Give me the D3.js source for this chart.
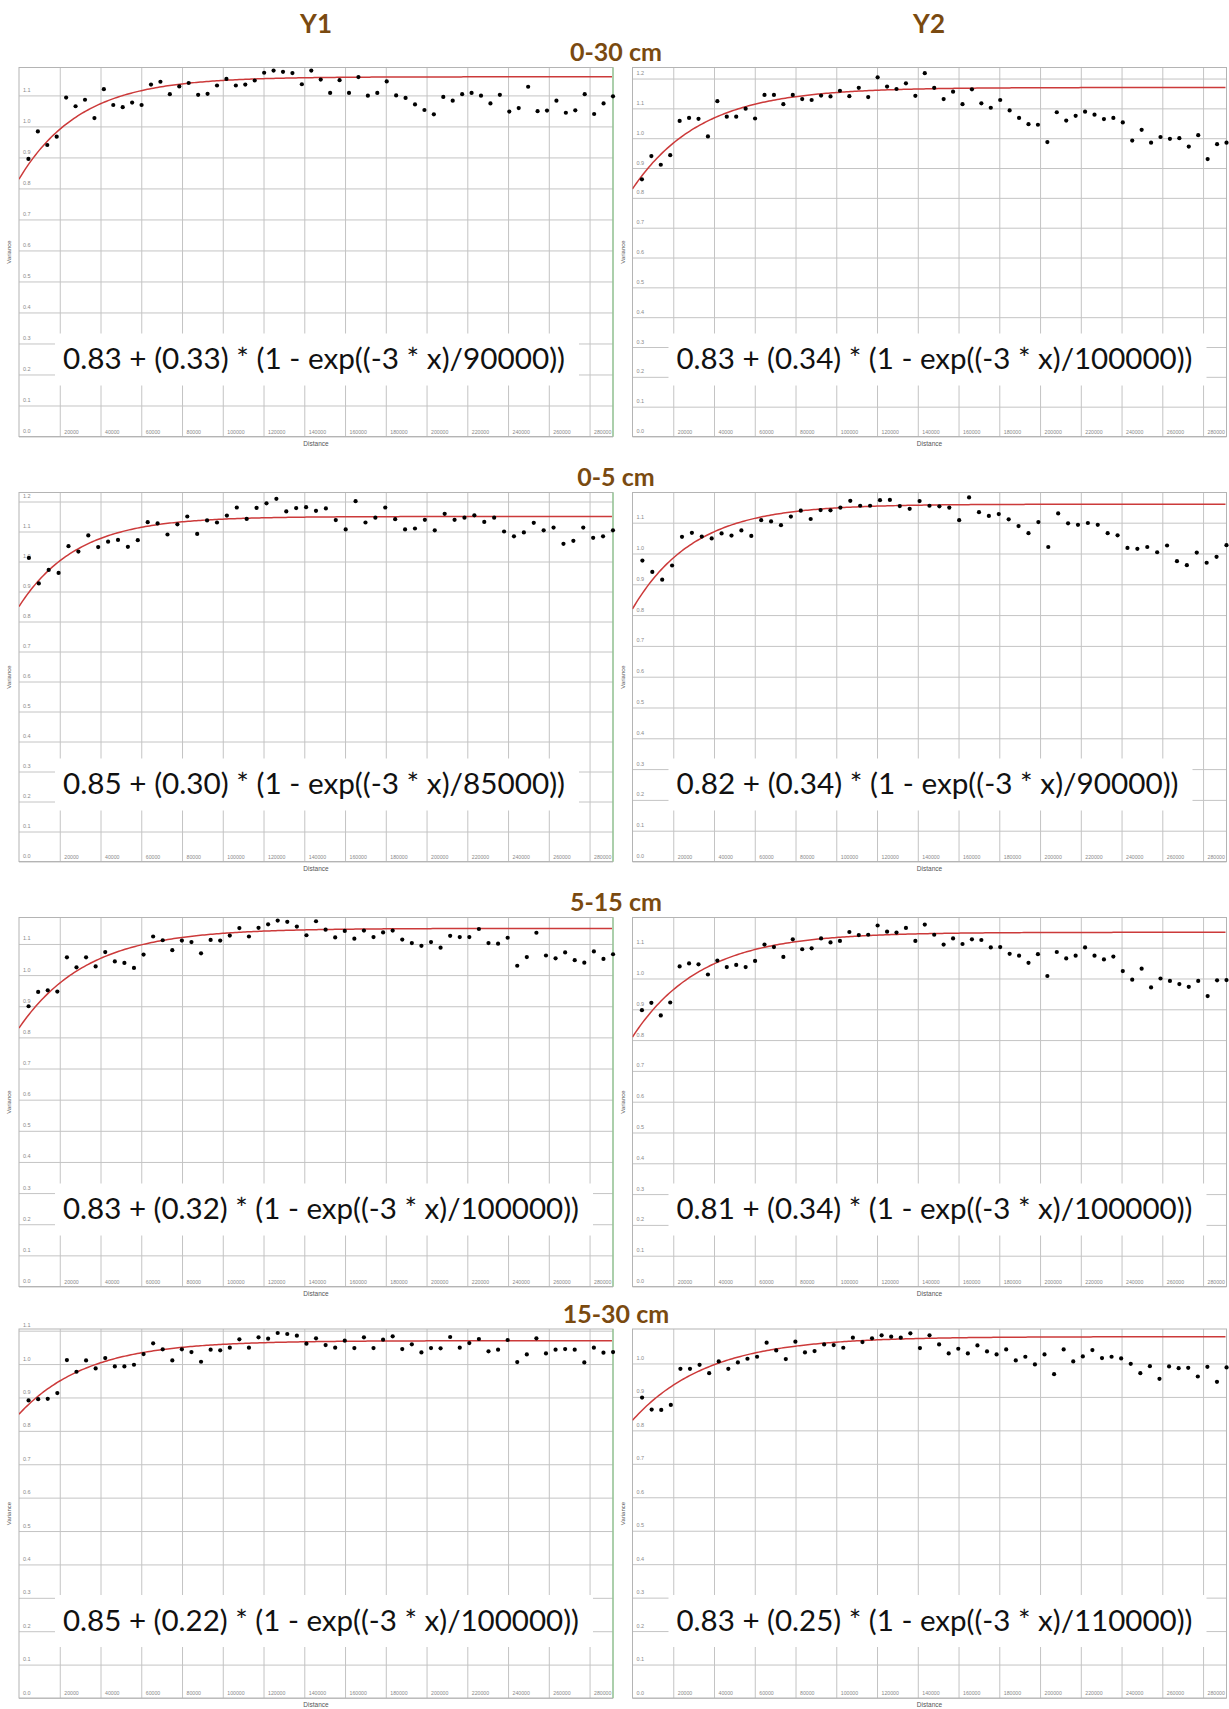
<!DOCTYPE html>
<html><head><meta charset="utf-8">
<script src="https://cdn.jsdelivr.net/npm/d3@7"></script>
<style>body{margin:0;background:#fff;overflow:hidden}</style>
</head><body>
<svg id="c" width="1229" height="1709"></svg>
<script>
// ---------- data ----------
const columnTitles = ["Y1", "Y2"];
const depthTitles = ["0-30 cm", "0-5 cm", "5-15 cm", "15-30 cm"];
const xTicks = [20000, 40000, 60000, 80000, 100000, 120000, 140000, 160000, 180000, 200000, 220000, 240000, 260000, 280000];
const yTicks = [0.0, 0.1, 0.2, 0.3, 0.4, 0.5, 0.6, 0.7, 0.8, 0.9, 1.0, 1.1, 1.2];

const y1_0_30 = [0.895,0.984,0.940,0.967,1.093,1.065,1.086,1.027,1.120,1.069,1.062,1.077,1.069,1.135,1.144,1.104,1.129,1.140,1.102,1.105,1.132,1.153,1.132,1.135,1.148,1.173,1.180,1.176,1.172,1.136,1.180,1.151,1.108,1.149,1.108,1.159,1.099,1.108,1.145,1.100,1.092,1.071,1.053,1.039,1.095,1.083,1.104,1.108,1.099,1.074,1.102,1.048,1.059,1.128,1.049,1.051,1.083,1.044,1.052,1.104,1.040,1.074,1.097];
const y2_0_30 = [0.862,0.940,0.911,0.943,1.058,1.068,1.065,1.006,1.124,1.072,1.072,1.099,1.066,1.145,1.145,1.114,1.145,1.131,1.128,1.143,1.140,1.159,1.141,1.169,1.138,1.204,1.173,1.165,1.184,1.142,1.218,1.169,1.131,1.156,1.114,1.164,1.117,1.102,1.128,1.093,1.068,1.047,1.045,0.987,1.087,1.059,1.075,1.089,1.079,1.064,1.068,1.053,0.992,1.028,0.985,1.004,0.998,1.000,0.972,1.010,0.930,0.980,0.985];
const y1_0_5 = [1.012,0.927,0.972,0.962,1.051,1.033,1.087,1.048,1.066,1.072,1.049,1.071,1.131,1.127,1.090,1.124,1.150,1.092,1.137,1.130,1.153,1.180,1.142,1.179,1.194,1.209,1.167,1.178,1.181,1.169,1.177,1.138,1.107,1.201,1.130,1.146,1.180,1.141,1.107,1.110,1.139,1.104,1.159,1.139,1.146,1.154,1.132,1.146,1.100,1.084,1.097,1.129,1.104,1.113,1.059,1.069,1.113,1.079,1.084,1.104];
const y2_0_5 = [0.977,0.940,0.915,0.961,1.054,1.067,1.055,1.049,1.065,1.058,1.075,1.057,1.108,1.104,1.092,1.120,1.139,1.112,1.141,1.140,1.149,1.171,1.155,1.155,1.173,1.174,1.154,1.145,1.170,1.155,1.153,1.149,1.108,1.182,1.134,1.122,1.128,1.111,1.089,1.066,1.102,1.021,1.130,1.098,1.093,1.099,1.093,1.066,1.059,1.018,1.015,1.021,1.004,1.026,0.975,0.962,1.003,0.970,0.989,1.027];
const y1_5_15 = [0.900,0.946,0.951,0.947,1.057,1.025,1.057,1.028,1.074,1.044,1.039,1.023,1.066,1.124,1.112,1.080,1.111,1.106,1.070,1.113,1.111,1.127,1.151,1.124,1.152,1.163,1.175,1.171,1.156,1.128,1.173,1.146,1.121,1.142,1.117,1.143,1.122,1.137,1.143,1.114,1.103,1.094,1.106,1.088,1.126,1.122,1.122,1.148,1.103,1.101,1.120,1.030,1.058,1.136,1.063,1.054,1.073,1.048,1.040,1.076,1.052,1.067];
const y2_5_15 = [0.897,0.921,0.880,0.922,1.039,1.049,1.046,1.013,1.058,1.037,1.044,1.037,1.057,1.110,1.102,1.070,1.127,1.095,1.098,1.130,1.117,1.122,1.151,1.141,1.142,1.172,1.152,1.149,1.164,1.122,1.175,1.142,1.110,1.130,1.112,1.127,1.125,1.101,1.102,1.080,1.074,1.051,1.079,1.008,1.086,1.065,1.074,1.101,1.074,1.062,1.071,1.024,0.996,1.032,0.971,1.000,0.992,0.982,0.973,0.992,0.943,0.994,0.995];
const y1_15_30 = [0.891,0.895,0.896,0.913,1.012,0.977,1.011,0.987,1.018,0.993,0.993,0.998,1.030,1.062,1.044,1.011,1.044,1.036,1.007,1.043,1.041,1.049,1.074,1.049,1.080,1.076,1.093,1.090,1.085,1.061,1.077,1.057,1.049,1.070,1.048,1.080,1.048,1.073,1.083,1.045,1.059,1.035,1.048,1.047,1.081,1.049,1.063,1.075,1.038,1.043,1.072,1.006,1.029,1.077,1.032,1.043,1.045,1.043,1.005,1.049,1.034,1.036];
const y2_15_30 = [0.898,0.862,0.861,0.876,0.984,0.984,0.996,0.971,1.006,0.984,1.003,1.014,1.020,1.062,1.039,1.013,1.065,1.033,1.037,1.057,1.055,1.047,1.077,1.064,1.075,1.084,1.080,1.077,1.090,1.046,1.084,1.057,1.030,1.044,1.030,1.054,1.036,1.027,1.042,1.009,1.020,0.997,1.027,0.968,1.042,1.006,1.021,1.040,1.016,1.020,1.015,0.999,0.971,0.992,0.954,0.991,0.986,0.987,0.961,0.990,0.945,0.988];

// lag spacing (distance between variogram bins) per panel
const lagStep = [4627, 4627, 4858, 4858, 4702, 4627, 4702, 4702];
// fitted exponential model parameters per panel
const nugget = [0.83, 0.83, 0.85, 0.82, 0.83, 0.81, 0.85, 0.83];
const partialSill = [0.33, 0.34, 0.30, 0.34, 0.32, 0.34, 0.22, 0.25];
const rangeParam = [90000, 100000, 85000, 90000, 100000, 100000, 100000, 110000];
// axis maxima
const yMax = [1.19, 1.237, 1.23, 1.198, 1.185, 1.198, 1.105, 1.103];
const xMax = 291500;

const panelValues = [y1_0_30, y2_0_30, y1_0_5, y2_0_5, y1_5_15, y2_5_15, y1_15_30, y2_15_30];

// ---------- layout ----------
const svg = d3.select("#c");
const W = 594, H = 369;
const colLeft = [19, 632.5];
const rowTop = [67.5, 492.5, 917.5, 1329];
const brown = "#7a4a10";
const f2 = d3.format(".2f");

svg.append("rect").attr("width", 1229).attr("height", 1709).attr("fill", "#fff");

columnTitles.forEach((t, i) => {
  svg.append("text").attr("x", [316, 929][i]).attr("y", 24).attr("dy", "0.35em")
    .attr("text-anchor", "middle").attr("font-family", "Lato, 'Open Sans', sans-serif")
    .attr("font-weight", "bold").attr("font-size", 26).attr("fill", brown).text(t);
});
depthTitles.forEach((t, r) => {
  svg.append("text").attr("x", 616).attr("y", rowTop[r] - 15).attr("dy", "0.35em")
    .attr("text-anchor", "middle").attr("font-family", "Lato, 'Open Sans', sans-serif")
    .attr("font-weight", "bold").attr("font-size", 25).attr("fill", brown).text(t);
});

panelValues.forEach((vals, p) => {
  const r = Math.floor(p / 2), c = p % 2;
  const left = colLeft[c], top = rowTop[r];
  const x = d3.scaleLinear().domain([0, xMax]).range([0, W]);
  const y = d3.scaleLinear().domain([0, yMax[p]]).range([H, 0]);
  const g = svg.append("g").attr("transform", `translate(${left},${top})`);
  const clipId = "clip" + p;
  g.append("clipPath").attr("id", clipId).append("rect").attr("width", W).attr("height", H);

  // grid + y labels
  const ya = g.append("g").call(d3.axisLeft(y).tickValues(yTicks.filter(t => t <= yMax[p] - 0.004)).tickSize(-W).tickFormat(d3.format(".1f")));
  ya.select(".domain").remove();
  ya.selectAll("line").attr("stroke", "#c4c4c4");
  ya.selectAll("text").attr("x", 4).attr("y", -4).attr("dy", 0).attr("text-anchor", "start")
    .attr("font-size", 5.5).attr("font-family", "Arial, 'Liberation Sans', sans-serif").attr("fill", "#8a8a8a");

  const xa = g.append("g").attr("transform", `translate(0,${H})`)
    .call(d3.axisBottom(x).tickValues(xTicks).tickSize(-H).tickFormat(d3.format("d")));
  xa.select(".domain").remove();
  xa.selectAll("line").attr("stroke", "#c4c4c4");
  xa.selectAll("text").attr("x", 4).attr("y", -3).attr("dy", 0).attr("text-anchor", "start")
    .attr("font-size", 5.2).attr("font-family", "Arial, 'Liberation Sans', sans-serif").attr("fill", "#8a8a8a");

  // frame
  g.append("rect").attr("width", W).attr("height", H).attr("fill", "none").attr("stroke", "#b4b4b4");
  if (c === 0) {
    g.append("line").attr("x1", W).attr("x2", W).attr("y1", 0).attr("y2", H).attr("stroke", "#8cc88c").attr("stroke-width", 1.2);
  }

  // formula label
  const formula = `${f2(nugget[p])} + (${f2(partialSill[p])}) * (1 - exp((-3 * x)/${rangeParam[p]}))`;
  const fy = H - 77;
  const box = g.append("rect").attr("fill", "#fff");
  const tw = 502 + (formula.length - 41) * 14;
  g.append("text").attr("x", 44).attr("y", fy).attr("dy", "0.35em")
    .attr("font-family", "Lato, 'Open Sans', sans-serif").attr("font-size", 28).attr("fill", "#111")
    .attr("textLength", tw).attr("lengthAdjust", "spacingAndGlyphs").text(formula);
  box.attr("x", 36).attr("y", fy - 26).attr("width", tw + 22).attr("height", 52);

  // model curve
  const xs = d3.range(0, xMax + 1, 1000);
  const line = d3.line().x(d => x(d)).y(d => y(nugget[p] + partialSill[p] * (1 - Math.exp(-3 * d / rangeParam[p]))));
  g.append("path").datum(xs).attr("d", line).attr("fill", "none").attr("stroke", "#cc3a3a")
    .attr("stroke-width", 1.5).attr("clip-path", `url(#${clipId})`);

  // points
  g.selectAll("circle.pt").data(vals).join("circle").attr("class", "pt")
    .attr("cx", (d, i) => x((i + 1) * lagStep[p])).attr("cy", d => y(d)).attr("r", 2.1).attr("fill", "#000");

  // axis titles
  g.append("text").attr("transform", `translate(-8,${H / 2}) rotate(-90)`).attr("text-anchor", "middle")
    .attr("font-size", 6).attr("font-family", "Arial, 'Liberation Sans', sans-serif").attr("fill", "#555").text("Variance");
  g.append("text").attr("x", W / 2).attr("y", H + 9).attr("text-anchor", "middle")
    .attr("font-size", 6.5).attr("font-family", "Arial, 'Liberation Sans', sans-serif").attr("fill", "#555").text("Distance");
});
</script>
</body></html>
